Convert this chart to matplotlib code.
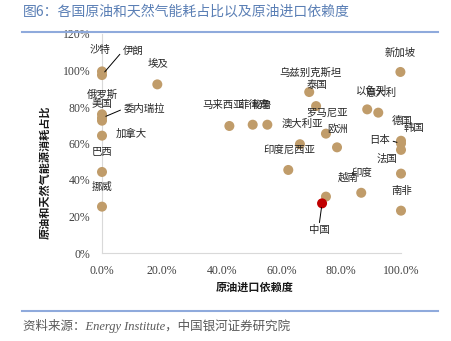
import matplotlib
matplotlib.use('Agg')
import matplotlib.pyplot as plt
from matplotlib.lines import Line2D

# ---------------- data ----------------
countries = ['沙特', '伊朗', '埃及', '俄罗斯', '委内瑞拉', '美国', '加拿大', '巴西', '挪威',
             '马来西亚', '菲律宾', '秘鲁', '乌兹别克斯坦', '泰国', '罗马尼亚', '澳大利亚', '欧洲', '印度尼西亚',
             '新加坡', '以色列', '意大利', '德国', '日本', '韩国', '法国', '南非', '印度', '越南', '中国']
oil_import = [0, 0, 18.5, 0, 0, 0, 0, 0, 0,
              42.6, 50.4, 55.3, 69.3, 71.6, 74.9, 66.2, 78.6, 62.3,
              99.8, 88.7, 92.4, 100, 100, 100, 100, 100, 86.7, 74.9, 73.6]
oil_gas_share = [99.5, 97.5, 92.4, 76.0, 74.0, 72.5, 64.3, 44.4, 25.4,
                 69.6, 70.3, 70.3, 88.2, 80.5, 65.4, 59.6, 57.9, 45.5,
                 99.2, 78.7, 76.9, 61.5, 60.0, 56.5, 43.5, 23.2, 33.0, 30.9, 27.2]
highlight = '中国'

x_ticks = [0, 20, 40, 60, 80, 100]
x_tick_labels = ['0.0%', '20.0%', '40.0%', '60.0%', '80.0%', '100.0%']
y_ticks = [0, 20, 40, 60, 80, 100, 120]
y_tick_labels = ['0%', '20%', '40%', '60%', '80%', '100%', '120%']

title = '图6：各国原油和天然气能耗占比以及原油进口依赖度'
xlabel = '原油进口依赖度'
ylabel = '原油和天然气能源消耗占比'
source = '资料来源：Energy Institute，中国银河证券研究院'

# ---------------- label placement (pixel offsets) ----------------
label_offsets = {
    '沙特': (-2, 21), '伊朗': (31, 24), '埃及': (1, 20), '俄罗斯': (0, 20),
    '委内瑞拉': (42, 9), '美国': (0, 17), '加拿大': (29, 2), '巴西': (0, 20),
    '挪威': (0, 20), '马来西亚': (-6, 21), '菲律宾': (1, 20), '秘鲁': (-5, 20),
    '乌兹别克斯坦': (1, 19), '泰国': (1, 21), '罗马尼亚': (1, 21), '澳大利亚': (2, 20),
    '欧洲': (1, 19), '印度尼西亚': (1, 19), '新加坡': (0, 19), '以色列': (4, 19),
    '意大利': (3, 20), '德国': (1, 20), '日本': (-21, 3), '韩国': (13, 22),
    '法国': (-14, 15), '南非': (1, 20), '印度': (1, 20), '越南': (22, 19),
    '中国': (-3, -27),
}
leaders = {'伊朗': (0, 0.5), '委内瑞拉': (0, 0.5), '日本': (1, 0.5), '中国': (0.5, 1)}

CJK = ['Noto Sans CJK SC', 'DejaVu Sans']
SERIF = ['Liberation Serif', 'Noto Sans CJK SC']

fig = plt.figure(figsize=(4.52, 3.41), dpi=100)
ax = fig.add_axes([102 / 452, 88 / 341, 299 / 452, 219 / 341])

tan = '#C09C6A'
red = '#C00000'
for c, xv, yv in zip(countries, oil_import, oil_gas_share):
    if c == highlight:
        continue
    ax.scatter(xv, yv, s=52, color=tan, edgecolors='none', zorder=3, clip_on=False)
i = countries.index(highlight)
ax.scatter(oil_import[i], oil_gas_share[i], s=52, color=red, edgecolors='none', zorder=4, clip_on=False)

for c, xv, yv in zip(countries, oil_import, oil_gas_share):
    dx, dy = label_offsets[c]
    kw = {}
    if c in leaders:
        kw['arrowprops'] = dict(arrowstyle='-', color='black', lw=0.7,
                                shrinkA=0, shrinkB=3, relpos=leaders[c])
    ax.annotate(c, (xv, yv), xytext=(dx, dy), textcoords='offset pixels',
                ha='center', va='center', fontsize=7.5, color='#262626',
                family=CJK, zorder=5, annotation_clip=False, **kw)

ax.set_xlim(0, 100)
ax.set_ylim(0, 120)
ax.set_xticks(x_ticks)
ax.set_xticklabels(x_tick_labels, family=SERIF, fontsize=8.5, color='#404040')
ax.set_yticks(y_ticks)
ax.set_yticklabels(y_tick_labels, family=SERIF, fontsize=8.5, color='#404040')
ax.tick_params(axis='both', length=0)
ax.tick_params(axis='x', pad=9)
ax.tick_params(axis='y', pad=8.5)
for s in ['top', 'right']:
    ax.spines[s].set_visible(False)
for s in ['left', 'bottom']:
    ax.spines[s].set_color('#D9D9D9')
    ax.spines[s].set_linewidth(0.8)
ax.patch.set_alpha(0)

fig.text(255 / 452, 1 - 287 / 341, xlabel, ha='center', va='center',
         fontsize=8, fontweight='bold', family=CJK, color='#1a1a1a')
fig.text(45 / 452, 1 - 172 / 341, ylabel, ha='center', va='center', rotation=90,
         fontsize=8, fontweight='bold', family=CJK, color='#1a1a1a')

fig.text(23 / 452, 1 - 12 / 341, title, ha='left', va='center',
         fontsize=10, color='#5A7FB5', family=CJK)
fig.add_artist(Line2D([22 / 452, 438 / 452], [1 - 31.5 / 341, 1 - 31.5 / 341],
                      transform=fig.transFigure, color='#8FAADC', lw=1.5))
fig.add_artist(Line2D([22 / 452, 438 / 452], [1 - 311 / 341, 1 - 311 / 341],
                      transform=fig.transFigure, color='#8FAADC', lw=1.5))
fig.text(23 / 452, 1 - 326 / 341, source, ha='left', va='center',
         fontsize=9, color='#595959', family=SERIF, style='italic')

fig.savefig('out.png', dpi=100)
